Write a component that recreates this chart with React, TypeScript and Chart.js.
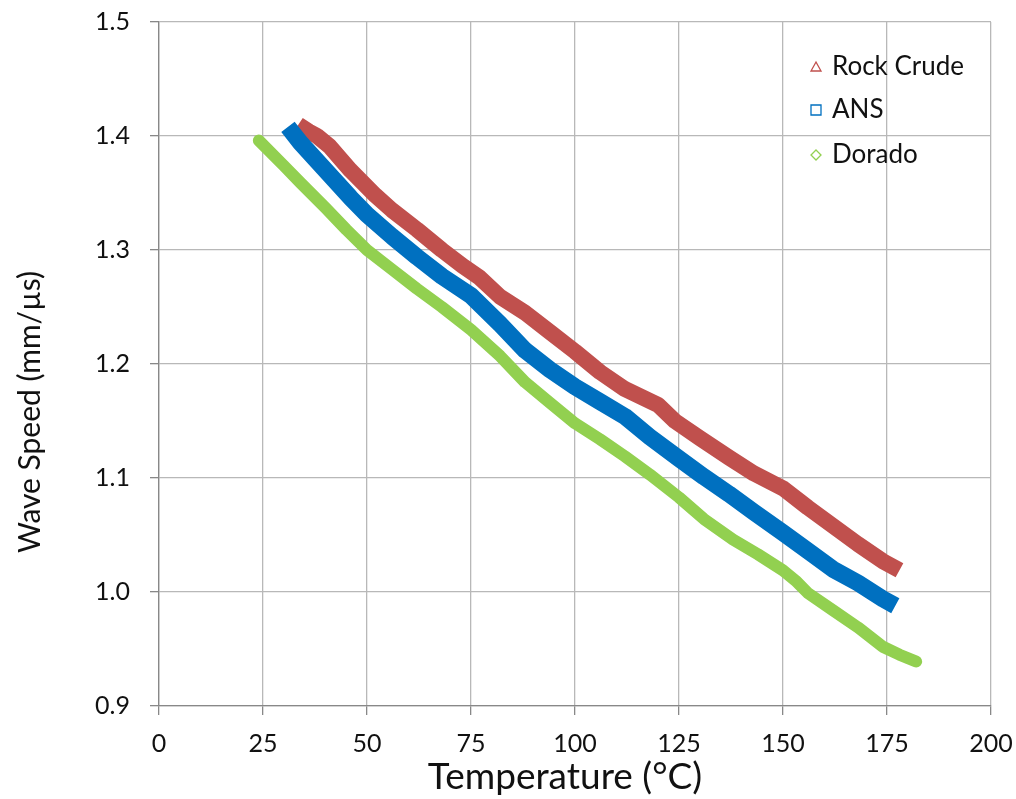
import React, { useEffect, useRef } from "react";
import { Chart, registerables } from "chart.js";

Chart.register(...registerables);

// Temperature (°C) and wave speed (mm/µs)
const rockT = [33.5, 36, 38, 41, 46, 52, 56, 62, 68, 73, 77, 82, 88, 94, 100, 106, 112, 116, 120, 124, 130, 137, 143, 150, 156, 162, 168, 174, 178];
const rockV = [1.41, 1.404, 1.4, 1.391, 1.37, 1.348, 1.335, 1.318, 1.3, 1.286, 1.276, 1.259, 1.245, 1.228, 1.211, 1.193, 1.178, 1.171, 1.164, 1.15, 1.135, 1.118, 1.104, 1.091, 1.074, 1.058, 1.042, 1.027, 1.019];

const ansT = [31, 34, 38, 42, 46, 50, 56, 62, 68, 75, 82, 88, 94, 100, 106, 112, 118, 125, 131, 137, 143, 150, 156, 162, 168, 174, 177];
const ansV = [1.408, 1.394, 1.378, 1.362, 1.346, 1.331, 1.312, 1.294, 1.277, 1.26, 1.235, 1.212, 1.195, 1.18, 1.167, 1.154, 1.136, 1.117, 1.101, 1.086, 1.07, 1.052, 1.036, 1.02, 1.008, 0.994, 0.988];

const doradoT = [24, 30, 34, 40, 45, 50, 56, 62, 68, 75, 82, 88, 94, 100, 106, 112, 118, 125, 131, 138, 144, 150, 153, 156, 162, 168, 174, 178, 182];
const doradoV = [1.396, 1.374, 1.359, 1.337, 1.318, 1.3, 1.283, 1.266, 1.25, 1.23, 1.207, 1.184, 1.166, 1.148, 1.134, 1.119, 1.103, 1.083, 1.064, 1.046, 1.033, 1.019, 1.01, 0.999, 0.984, 0.969, 0.952, 0.945, 0.939];

const seriesNames = ["Rock Crude", "ANS", "Dorado"];
const seriesColors = ["#C0504D", "#0070C0", "#92D050"];
const seriesWidths = [16, 17, 12];
const xTicks = [0, 25, 50, 75, 100, 125, 150, 175, 200];
const yTicks = [0.9, 1.0, 1.1, 1.2, 1.3, 1.4, 1.5];
const xTitle = "Temperature (°C)";
const yTitle = "Wave Speed (mm/µs)";

const FONT = "Lato, 'Open Sans', sans-serif";

const toPts = (xs: number[], ys: number[]) => xs.map((x, i) => ({ x, y: ys[i] }));

const legendPlugin = {
  id: "customLegend",
  afterDraw(chart: any) {
    const ctx = chart.ctx;
    const mx = 816;
    const tx = 832;
    const rows = [67, 110, 155];
    ctx.save();
    ctx.font = `26px ${FONT}`;
    ctx.textBaseline = "middle";
    rows.forEach((y, i) => {
      ctx.strokeStyle = seriesColors[i];
      ctx.lineWidth = 1.3;
      ctx.beginPath();
      if (i === 0) {
        ctx.moveTo(mx, y - 5);
        ctx.lineTo(mx + 5, y + 4);
        ctx.lineTo(mx - 5, y + 4);
        ctx.closePath();
      } else if (i === 1) {
        ctx.rect(mx - 5, y - 5, 10, 10);
      } else {
        ctx.moveTo(mx, y - 5);
        ctx.lineTo(mx + 5, y);
        ctx.lineTo(mx, y + 5);
        ctx.lineTo(mx - 5, y);
        ctx.closePath();
      }
      ctx.stroke();
      ctx.fillStyle = "#111";
      ctx.fillText(seriesNames[i], tx, y);
    });
    // axis titles
    ctx.fillStyle = "#111";
    ctx.textAlign = "center";
    ctx.font = `37px ${FONT}`;
    ctx.fillText(xTitle, 565, 777);
    ctx.translate(30, 412);
    ctx.rotate(-Math.PI / 2);
    ctx.font = `30px ${FONT}`;
    ctx.fillText(yTitle, 0, 0);
    ctx.restore();
  },
};

export default function App() {
  const ref = useRef<HTMLCanvasElement>(null);
  useEffect(() => {
    document.body.style.margin = "0";
    const series = [toPts(rockT, rockV), toPts(ansT, ansV), toPts(doradoT, doradoV)];
    const chart = new Chart(ref.current!, {
      type: "line",
      data: {
        datasets: series.map((d, i) => ({
          label: seriesNames[i],
          data: d,
          borderColor: seriesColors[i],
          backgroundColor: seriesColors[i],
          borderWidth: seriesWidths[i],
          pointRadius: 0,
          tension: 0,
          borderJoinStyle: "round" as const,
          borderCapStyle: (i === 2 ? "round" : "butt") as any,
          fill: false,
          order: i === 1 ? 0 : i === 0 ? 1 : 2,
        })),
      },
      options: {
        responsive: false,
        animation: false,
        layout: { padding: { top: 22, right: 25, left: 0, bottom: 0 } },
        plugins: { legend: { display: false }, tooltip: { enabled: false } },
        scales: {
          x: {
            type: "linear",
            min: 0,
            max: 200,
            afterBuildTicks: (s: any) => {
              s.ticks = xTicks.map((v) => ({ value: v }));
            },
            afterFit: (s: any) => {
              s.height = 93;
              s.paddingLeft = 0;
              s.paddingRight = 0;
            },
            ticks: { font: { size: 25, family: FONT }, color: "#111", padding: 14, maxRotation: 0 },
            grid: { color: "#b8b8b8", lineWidth: 1.3, tickLength: 9, tickColor: "#888" },
            border: { color: "#888", width: 1.3 },
          },
          y: {
            type: "linear",
            min: 0.9,
            max: 1.5,
            afterBuildTicks: (s: any) => {
              s.ticks = yTicks.map((v) => ({ value: v }));
            },
            afterFit: (s: any) => {
              s.width = 159;
              s.paddingTop = 0;
              s.paddingBottom = 0;
            },
            ticks: {
              font: { size: 25, family: FONT },
              color: "#111",
              padding: 20,
              callback: (v: any) => Number(v).toFixed(1),
            },
            grid: { color: "#b8b8b8", lineWidth: 1.3, tickLength: 9, tickColor: "#888" },
            border: { color: "#888", width: 1.3 },
          },
        },
      },
      plugins: [legendPlugin],
    });
    return () => chart.destroy();
  }, []);
  return (
    <div style={{ width: 1016, height: 799 }}>
      <canvas ref={ref} width={1016} height={799} style={{ display: "block" }} />
    </div>
  );
}
